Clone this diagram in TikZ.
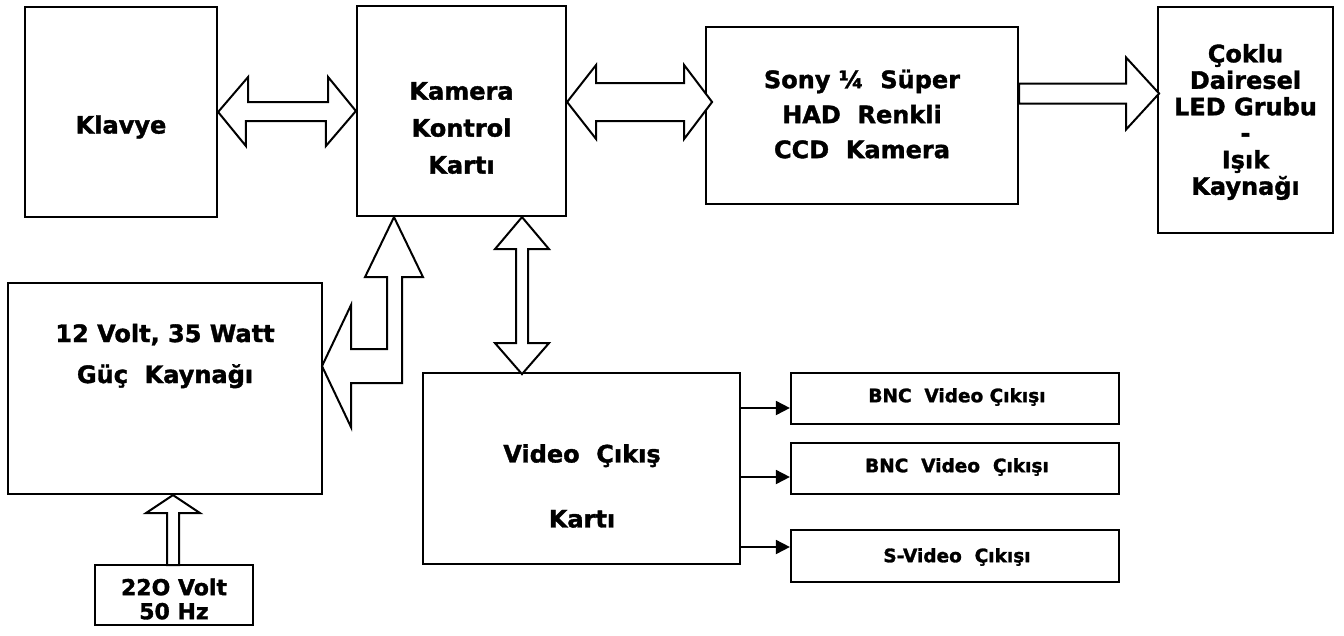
\documentclass[tikz,border=0pt]{standalone}
\usepackage{fontspec}
\setmainfont{DejaVu Sans}[BoldFeatures={FakeBold=1.5}]
\usetikzlibrary{arrows.meta,calc}
\begin{document}
\begin{tikzpicture}[x=1pt,y=-1pt,
  box/.style={draw,line width=2.2pt,inner sep=0pt},
  blk/.style={draw,line width=2pt,fill=white,line join=miter},
  lbl/.style={align=center,inner sep=0pt},
  big/.style={lbl,font=\bfseries\fontsize{24}{#1}\selectfont},
  sml/.style={lbl,font=\bfseries\fontsize{18.5}{22}\selectfont},
  outarr/.style={line width=1.8pt,-{Triangle[length=14pt,width=14pt]}}]
\useasboundingbox (0,0) rectangle (1344,635);
% boxes
\node[box,minimum width=192pt,minimum height=210pt] (kl) at (121,112) {};
\node[box,minimum width=209pt,minimum height=210pt] (kk) at (461.5,111) {};
\node[box,minimum width=312pt,minimum height=177pt] (sony) at (862,115.5) {};
\node[box,minimum width=175pt,minimum height=226pt] (led) at (1245.5,120) {};
\node[box,minimum width=314pt,minimum height=211pt] (pw) at (165,388.5) {};
\node[box,minimum width=317pt,minimum height=191pt] (vid) at (581.5,468.5) {};
\node[box,minimum width=328pt,minimum height=51pt] (b1) at (955,398.5) {};
\node[box,minimum width=328pt,minimum height=51pt] (b2) at (955,468.5) {};
\node[box,minimum width=328pt,minimum height=52pt] (b3) at (955,556) {};
\node[box,minimum width=158pt,minimum height=60pt] (v220) at (174,595) {};
% labels
\node[big=26] (tkl) at (121,127) {Klavye};
\node[big=37] (tkk) at (461.5,128) {Kamera\\Kontrol\\Kartı};
\node[big=35] (tsony) at (862,114) {Sony ¼\ \ Süper\\HAD\ \ Renkli\\CCD\ \ Kamera};
\node[big=26.5] (tled) at (1245.5,122) {Çoklu\\Dairesel\\LED Grubu\\-\\Işık\\Kaynağı};
\node[big=41] (tpw) at (165,356) {12 Volt, 35 Watt\\Güç\ \ Kaynağı};
\node[big=65] (tvid) at (582,486) {Video\ \ Çıkış\\Kartı};
\node[sml] (tb1) at (957,397) {BNC\ \ Video Çıkışı};
\node[sml] (tb2) at (957,467) {BNC\ \ Video\ \ Çıkışı};
\node[sml] (tb3) at (957,557) {S-Video\ \ Çıkışı};
\node[lbl,font=\bfseries\fontsize{22}{24}\selectfont] (tv220) at (174,599) {22O Volt\\50 Hz};
% Klavye <-> Kamera
\draw[blk] (kl.east) -- ++(30,-35) -- ++(0,25) -- ++(80,0) -- ++(0,-25) -- (kk.west)
  -- ++(-30,35) -- ++(0,-25) -- ++(-80,0) -- ++(0,25) -- cycle;
% Kamera <-> Sony
\draw[blk] ([yshift=9pt]kk.east) -- ++(29,-37) -- ++(0,18) -- ++(88,0) -- ++(0,-18)
  -- ++(28,37) -- ++(-28,37) -- ++(0,-18) -- ++(-88,0) -- ++(0,18) -- cycle;
% Sony -> LED
\draw[blk] ([yshift=22pt]sony.east) ++(0,-10) -- ++(107,0) -- ++(0,-26) -- ++(33,36)
  -- ++(-33,36) -- ++(0,-26) -- ++(-107,0) -- cycle;
% Kamera <-> Video
\draw[blk] ([xshift=60.5pt]kk.south) -- ++(27,32) -- ++(-21,0) -- ++(0,94) -- ++(21,0)
  -- ++(-27,31) -- ++(-27,-31) -- ++(21,0) -- ++(0,-94) -- ++(-21,0) -- cycle;
% Power bent arrow
\draw[blk] ([xshift=-67.5pt]kk.south) -- ++(29,60) -- ++(-21,0) -- ++(0,106) -- ++(-51,0)
  -- ++(0,44) -- ++(-29,-61) -- ++(29,-61) -- ++(0,44) -- ++(36,0) -- ++(0,-72) -- ++(-22,0) -- cycle;
% 220V -> power
\draw[blk] ([xshift=8pt]pw.south) -- ++(27,18) -- ++(-21,0) -- ++(0,52) -- ++(-12,0)
  -- ++(0,-52) -- ++(-21,0) -- cycle;
% outputs
\draw[outarr] ([yshift=-9.5pt]b1.west -| vid.east) -- ([yshift=-9.5pt]b1.west);
\draw[outarr] ([yshift=-8.5pt]b2.west -| vid.east) -- ([yshift=-8.5pt]b2.west);
\draw[outarr] ([yshift=9pt]b3.west -| vid.east) -- ([yshift=9pt]b3.west);
\end{tikzpicture}
\end{document}
